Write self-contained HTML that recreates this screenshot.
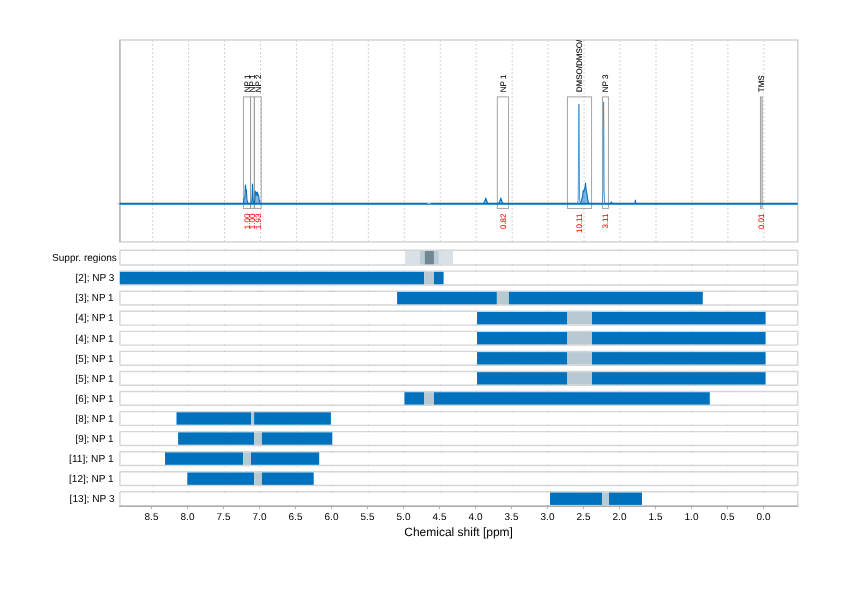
<!DOCTYPE html><html><head><meta charset="utf-8"><style>html,body{margin:0;padding:0;background:#fff;}svg{display:block;will-change:transform}text{font-family:"Liberation Sans",sans-serif;text-rendering:geometricPrecision}</style></head><body>
<svg width="842" height="595" viewBox="0 0 842 595">
<rect width="842" height="595" fill="#fff"/>
<defs><clipPath id="pc"><rect x="119.90" y="40.00" width="677.90" height="201.90"/></clipPath></defs>
<line x1="152.63" y1="40.00" x2="152.63" y2="241.90" stroke="#d2d2d2" stroke-width="1" stroke-dasharray="2,2"/>
<line x1="188.58" y1="40.00" x2="188.58" y2="241.90" stroke="#d2d2d2" stroke-width="1" stroke-dasharray="2,2"/>
<line x1="224.53" y1="40.00" x2="224.53" y2="241.90" stroke="#d2d2d2" stroke-width="1" stroke-dasharray="2,2"/>
<line x1="260.49" y1="40.00" x2="260.49" y2="241.90" stroke="#d2d2d2" stroke-width="1" stroke-dasharray="2,2"/>
<line x1="296.44" y1="40.00" x2="296.44" y2="241.90" stroke="#d2d2d2" stroke-width="1" stroke-dasharray="2,2"/>
<line x1="332.39" y1="40.00" x2="332.39" y2="241.90" stroke="#d2d2d2" stroke-width="1" stroke-dasharray="2,2"/>
<line x1="368.35" y1="40.00" x2="368.35" y2="241.90" stroke="#d2d2d2" stroke-width="1" stroke-dasharray="2,2"/>
<line x1="404.30" y1="40.00" x2="404.30" y2="241.90" stroke="#d2d2d2" stroke-width="1" stroke-dasharray="2,2"/>
<line x1="440.25" y1="40.00" x2="440.25" y2="241.90" stroke="#d2d2d2" stroke-width="1" stroke-dasharray="2,2"/>
<line x1="476.21" y1="40.00" x2="476.21" y2="241.90" stroke="#d2d2d2" stroke-width="1" stroke-dasharray="2,2"/>
<line x1="512.16" y1="40.00" x2="512.16" y2="241.90" stroke="#d2d2d2" stroke-width="1" stroke-dasharray="2,2"/>
<line x1="548.11" y1="40.00" x2="548.11" y2="241.90" stroke="#d2d2d2" stroke-width="1" stroke-dasharray="2,2"/>
<line x1="584.07" y1="40.00" x2="584.07" y2="241.90" stroke="#d2d2d2" stroke-width="1" stroke-dasharray="2,2"/>
<line x1="620.02" y1="40.00" x2="620.02" y2="241.90" stroke="#d2d2d2" stroke-width="1" stroke-dasharray="2,2"/>
<line x1="655.97" y1="40.00" x2="655.97" y2="241.90" stroke="#d2d2d2" stroke-width="1" stroke-dasharray="2,2"/>
<line x1="691.92" y1="40.00" x2="691.92" y2="241.90" stroke="#d2d2d2" stroke-width="1" stroke-dasharray="2,2"/>
<line x1="727.88" y1="40.00" x2="727.88" y2="241.90" stroke="#d2d2d2" stroke-width="1" stroke-dasharray="2,2"/>
<line x1="763.83" y1="40.00" x2="763.83" y2="241.90" stroke="#d2d2d2" stroke-width="1" stroke-dasharray="2,2"/>
<rect x="119.90" y="40.00" width="677.90" height="201.90" fill="none" stroke="#d0d0d0" stroke-width="1.4"/>
<line x1="119.90" y1="40.00" x2="119.90" y2="241.90" stroke="#b4b4b4" stroke-width="1.3"/>
<line x1="117.8" y1="203.8" x2="119.9" y2="203.8" stroke="#888" stroke-width="0.8"/>
<rect x="243.40" y="96.9" width="7.20" height="111.50" fill="none" stroke="#9a9a9a" stroke-width="0.9"/>
<rect x="250.60" y="96.9" width="3.70" height="111.50" fill="none" stroke="#9a9a9a" stroke-width="0.9"/>
<rect x="254.30" y="96.9" width="6.90" height="111.50" fill="none" stroke="#9a9a9a" stroke-width="0.9"/>
<rect x="497.30" y="96.9" width="11.30" height="111.50" fill="none" stroke="#9a9a9a" stroke-width="0.9"/>
<rect x="567.40" y="96.9" width="24.20" height="111.50" fill="none" stroke="#9a9a9a" stroke-width="0.9"/>
<rect x="602.40" y="96.9" width="6.00" height="111.50" fill="none" stroke="#9a9a9a" stroke-width="0.9"/>
<rect x="760.40" y="96.9" width="1.80" height="111.50" fill="#d9d9d9" stroke="#9a9a9a" stroke-width="0.9"/>
<path d="M119.90,203.8 H797.80" fill="none" stroke="#0072bd" stroke-width="1.9"/>
<rect x="427.1" y="202.80" width="3.8" height="0.8" fill="#fff" fill-opacity="0.85"/>
<path d="M243.60,203.60 L243.90,199.50 L244.40,197.60 L244.90,197.20 L245.20,190.00 L245.45,185.10 L245.80,188.00 L246.00,190.40 L246.35,190.00 L246.70,195.00 L247.00,200.20 L247.70,202.60 L248.50,203.60" fill="#0072bd" fill-opacity="0.5" stroke="#0072bd" stroke-width="1.1" stroke-linejoin="round"/>
<path d="M251.30,203.60 L251.90,200.50 L252.20,196.00 L252.50,184.00 L252.80,192.00 L253.10,200.00 L253.80,203.30" fill="#0072bd" fill-opacity="0.5" stroke="#0072bd" stroke-width="1.1" stroke-linejoin="round"/>
<path d="M254.40,203.40 L254.80,200.00 L255.30,191.00 L255.80,194.50 L256.40,192.30 L257.00,195.50 L257.50,192.00 L258.00,195.50 L258.50,195.00 L259.40,201.00 L260.20,203.60" fill="#0072bd" fill-opacity="0.5" stroke="#0072bd" stroke-width="1.1" stroke-linejoin="round"/>
<path d="M483.40,203.60 L484.60,201.50 L485.40,199.50 L485.75,198.00 L486.20,199.50 L487.00,201.50 L488.10,203.60" fill="#0072bd" fill-opacity="0.5" stroke="#0072bd" stroke-width="1.1" stroke-linejoin="round"/>
<path d="M498.50,203.60 L499.70,201.50 L500.40,199.50 L500.80,198.00 L501.20,199.50 L502.00,201.50 L503.10,203.60" fill="#0072bd" fill-opacity="0.5" stroke="#0072bd" stroke-width="1.1" stroke-linejoin="round"/>
<path d="M577.40,203.40 L578.20,200.00 L578.60,140.00 L578.90,104.10 L579.20,140.00 L579.60,200.00 L580.30,203.60" fill="none" stroke="#3d8fcf" stroke-width="0.9" stroke-linejoin="round"/>
<path d="M580.30,203.60 L581.50,200.50 L582.60,196.50 L583.20,190.50 L584.00,191.50 L584.80,188.00 L585.30,186.00 L585.50,183.10 L585.80,187.00 L586.30,191.00 L586.80,193.00 L587.40,197.60 L588.40,202.50 L589.20,203.60" fill="#0072bd" fill-opacity="0.5" stroke="#0072bd" stroke-width="1.1" stroke-linejoin="round"/>
<path d="M602.50,203.60 L603.10,190.00 L603.45,120.00 L603.60,101.80 L603.80,120.00 L604.10,190.00 L604.70,203.60" fill="none" stroke="#3d8fcf" stroke-width="0.9" stroke-linejoin="round"/>
<path d="M610.60,203.60 L611.40,201.90 L612.20,203.60" fill="#0072bd" fill-opacity="0.5" stroke="#0072bd" stroke-width="1.1" stroke-linejoin="round"/>
<path d="M635.00,203.60 L635.40,200.00 L635.80,203.60" fill="#0072bd" fill-opacity="0.5" stroke="#0072bd" stroke-width="1.1" stroke-linejoin="round"/>
<g clip-path="url(#pc)"><text transform="translate(249.90,92.2) rotate(-90)" font-size="8" fill="#000" stroke="#000" stroke-width="0.08">NP 1</text></g>
<text transform="translate(249.90,213.6) rotate(-90)" font-size="8" fill="#f00" stroke="#f00" stroke-width="0.05" text-anchor="end">1.00</text>
<g clip-path="url(#pc)"><text transform="translate(255.05,92.2) rotate(-90)" font-size="8" fill="#000" stroke="#000" stroke-width="0.08">NP 1</text></g>
<text transform="translate(255.05,213.6) rotate(-90)" font-size="8" fill="#f00" stroke="#f00" stroke-width="0.05" text-anchor="end">1.00</text>
<g clip-path="url(#pc)"><text transform="translate(260.75,92.2) rotate(-90)" font-size="8" fill="#000" stroke="#000" stroke-width="0.08">NP 2</text></g>
<text transform="translate(260.75,213.6) rotate(-90)" font-size="8" fill="#f00" stroke="#f00" stroke-width="0.05" text-anchor="end">1.93</text>
<g clip-path="url(#pc)"><text transform="translate(505.65,92.2) rotate(-90)" font-size="8" fill="#000" stroke="#000" stroke-width="0.08">NP 1</text></g>
<text transform="translate(505.65,213.6) rotate(-90)" font-size="8" fill="#f00" stroke="#f00" stroke-width="0.05" text-anchor="end">0.82</text>
<g clip-path="url(#pc)"><text transform="translate(582.20,92.2) rotate(-90)" font-size="8" fill="#000" stroke="#000" stroke-width="0.08">DMSO/DMSO/DMSO</text></g>
<text transform="translate(582.20,213.6) rotate(-90)" font-size="8" fill="#f00" stroke="#f00" stroke-width="0.05" text-anchor="end">10.11</text>
<g clip-path="url(#pc)"><text transform="translate(608.10,92.2) rotate(-90)" font-size="8" fill="#000" stroke="#000" stroke-width="0.08">NP 3</text></g>
<text transform="translate(608.10,213.6) rotate(-90)" font-size="8" fill="#f00" stroke="#f00" stroke-width="0.05" text-anchor="end">3.11</text>
<g clip-path="url(#pc)"><text transform="translate(764.00,92.2) rotate(-90)" font-size="8" fill="#000" stroke="#000" stroke-width="0.08">TMS</text></g>
<text transform="translate(764.00,213.6) rotate(-90)" font-size="8" fill="#f00" stroke="#f00" stroke-width="0.05" text-anchor="end">0.01</text>
<rect x="119.90" y="250.30" width="677.90" height="14.70" rx="0.6" fill="#fff" stroke="#d6d6d6" stroke-width="1.4"/>
<rect x="405.1" y="251.00" width="47.90" height="13.30" fill="#d9e1e7"/>
<rect x="420.1" y="251.00" width="18.50" height="13.30" fill="#b9cbd3"/>
<rect x="424.9" y="251.00" width="9.00" height="13.30" fill="#718794"/>
<line x1="152.63" y1="249.60" x2="152.63" y2="251.00" stroke="#c4c4c4" stroke-width="0.8"/>
<line x1="152.63" y1="264.30" x2="152.63" y2="265.70" stroke="#c4c4c4" stroke-width="0.8"/>
<line x1="188.58" y1="249.60" x2="188.58" y2="251.00" stroke="#c4c4c4" stroke-width="0.8"/>
<line x1="188.58" y1="264.30" x2="188.58" y2="265.70" stroke="#c4c4c4" stroke-width="0.8"/>
<line x1="224.53" y1="249.60" x2="224.53" y2="251.00" stroke="#c4c4c4" stroke-width="0.8"/>
<line x1="224.53" y1="264.30" x2="224.53" y2="265.70" stroke="#c4c4c4" stroke-width="0.8"/>
<line x1="260.49" y1="249.60" x2="260.49" y2="251.00" stroke="#c4c4c4" stroke-width="0.8"/>
<line x1="260.49" y1="264.30" x2="260.49" y2="265.70" stroke="#c4c4c4" stroke-width="0.8"/>
<line x1="296.44" y1="249.60" x2="296.44" y2="251.00" stroke="#c4c4c4" stroke-width="0.8"/>
<line x1="296.44" y1="264.30" x2="296.44" y2="265.70" stroke="#c4c4c4" stroke-width="0.8"/>
<line x1="332.39" y1="249.60" x2="332.39" y2="251.00" stroke="#c4c4c4" stroke-width="0.8"/>
<line x1="332.39" y1="264.30" x2="332.39" y2="265.70" stroke="#c4c4c4" stroke-width="0.8"/>
<line x1="368.35" y1="249.60" x2="368.35" y2="251.00" stroke="#c4c4c4" stroke-width="0.8"/>
<line x1="368.35" y1="264.30" x2="368.35" y2="265.70" stroke="#c4c4c4" stroke-width="0.8"/>
<line x1="404.30" y1="249.60" x2="404.30" y2="251.00" stroke="#c4c4c4" stroke-width="0.8"/>
<line x1="404.30" y1="264.30" x2="404.30" y2="265.70" stroke="#c4c4c4" stroke-width="0.8"/>
<line x1="440.25" y1="249.60" x2="440.25" y2="251.00" stroke="#c4c4c4" stroke-width="0.8"/>
<line x1="440.25" y1="264.30" x2="440.25" y2="265.70" stroke="#c4c4c4" stroke-width="0.8"/>
<line x1="476.21" y1="249.60" x2="476.21" y2="251.00" stroke="#c4c4c4" stroke-width="0.8"/>
<line x1="476.21" y1="264.30" x2="476.21" y2="265.70" stroke="#c4c4c4" stroke-width="0.8"/>
<line x1="512.16" y1="249.60" x2="512.16" y2="251.00" stroke="#c4c4c4" stroke-width="0.8"/>
<line x1="512.16" y1="264.30" x2="512.16" y2="265.70" stroke="#c4c4c4" stroke-width="0.8"/>
<line x1="548.11" y1="249.60" x2="548.11" y2="251.00" stroke="#c4c4c4" stroke-width="0.8"/>
<line x1="548.11" y1="264.30" x2="548.11" y2="265.70" stroke="#c4c4c4" stroke-width="0.8"/>
<line x1="584.07" y1="249.60" x2="584.07" y2="251.00" stroke="#c4c4c4" stroke-width="0.8"/>
<line x1="584.07" y1="264.30" x2="584.07" y2="265.70" stroke="#c4c4c4" stroke-width="0.8"/>
<line x1="620.02" y1="249.60" x2="620.02" y2="251.00" stroke="#c4c4c4" stroke-width="0.8"/>
<line x1="620.02" y1="264.30" x2="620.02" y2="265.70" stroke="#c4c4c4" stroke-width="0.8"/>
<line x1="655.97" y1="249.60" x2="655.97" y2="251.00" stroke="#c4c4c4" stroke-width="0.8"/>
<line x1="655.97" y1="264.30" x2="655.97" y2="265.70" stroke="#c4c4c4" stroke-width="0.8"/>
<line x1="691.92" y1="249.60" x2="691.92" y2="251.00" stroke="#c4c4c4" stroke-width="0.8"/>
<line x1="691.92" y1="264.30" x2="691.92" y2="265.70" stroke="#c4c4c4" stroke-width="0.8"/>
<line x1="727.88" y1="249.60" x2="727.88" y2="251.00" stroke="#c4c4c4" stroke-width="0.8"/>
<line x1="727.88" y1="264.30" x2="727.88" y2="265.70" stroke="#c4c4c4" stroke-width="0.8"/>
<line x1="763.83" y1="249.60" x2="763.83" y2="251.00" stroke="#c4c4c4" stroke-width="0.8"/>
<line x1="763.83" y1="264.30" x2="763.83" y2="265.70" stroke="#c4c4c4" stroke-width="0.8"/>
<text x="52.04" y="260.75" font-size="10.15" fill="#000" textLength="64.83" lengthAdjust="spacingAndGlyphs">Suppr. regions</text>
<rect x="119.90" y="271.16" width="677.90" height="13.80" rx="0.6" fill="#fff" stroke="#d6d6d6" stroke-width="1.4"/>
<rect x="119.90" y="271.86" width="304.30" height="12.40" fill="#0072bd"/>
<rect x="424.20" y="271.86" width="9.80" height="12.40" fill="#b9c9d1"/>
<rect x="434.00" y="271.86" width="9.60" height="12.40" fill="#0072bd"/>
<line x1="152.63" y1="270.46" x2="152.63" y2="271.86" stroke="#c4c4c4" stroke-width="0.8"/>
<line x1="152.63" y1="284.26" x2="152.63" y2="285.66" stroke="#c4c4c4" stroke-width="0.8"/>
<line x1="188.58" y1="270.46" x2="188.58" y2="271.86" stroke="#c4c4c4" stroke-width="0.8"/>
<line x1="188.58" y1="284.26" x2="188.58" y2="285.66" stroke="#c4c4c4" stroke-width="0.8"/>
<line x1="224.53" y1="270.46" x2="224.53" y2="271.86" stroke="#c4c4c4" stroke-width="0.8"/>
<line x1="224.53" y1="284.26" x2="224.53" y2="285.66" stroke="#c4c4c4" stroke-width="0.8"/>
<line x1="260.49" y1="270.46" x2="260.49" y2="271.86" stroke="#c4c4c4" stroke-width="0.8"/>
<line x1="260.49" y1="284.26" x2="260.49" y2="285.66" stroke="#c4c4c4" stroke-width="0.8"/>
<line x1="296.44" y1="270.46" x2="296.44" y2="271.86" stroke="#c4c4c4" stroke-width="0.8"/>
<line x1="296.44" y1="284.26" x2="296.44" y2="285.66" stroke="#c4c4c4" stroke-width="0.8"/>
<line x1="332.39" y1="270.46" x2="332.39" y2="271.86" stroke="#c4c4c4" stroke-width="0.8"/>
<line x1="332.39" y1="284.26" x2="332.39" y2="285.66" stroke="#c4c4c4" stroke-width="0.8"/>
<line x1="368.35" y1="270.46" x2="368.35" y2="271.86" stroke="#c4c4c4" stroke-width="0.8"/>
<line x1="368.35" y1="284.26" x2="368.35" y2="285.66" stroke="#c4c4c4" stroke-width="0.8"/>
<line x1="404.30" y1="270.46" x2="404.30" y2="271.86" stroke="#c4c4c4" stroke-width="0.8"/>
<line x1="404.30" y1="284.26" x2="404.30" y2="285.66" stroke="#c4c4c4" stroke-width="0.8"/>
<line x1="440.25" y1="270.46" x2="440.25" y2="271.86" stroke="#c4c4c4" stroke-width="0.8"/>
<line x1="440.25" y1="284.26" x2="440.25" y2="285.66" stroke="#c4c4c4" stroke-width="0.8"/>
<line x1="476.21" y1="270.46" x2="476.21" y2="271.86" stroke="#c4c4c4" stroke-width="0.8"/>
<line x1="476.21" y1="284.26" x2="476.21" y2="285.66" stroke="#c4c4c4" stroke-width="0.8"/>
<line x1="512.16" y1="270.46" x2="512.16" y2="271.86" stroke="#c4c4c4" stroke-width="0.8"/>
<line x1="512.16" y1="284.26" x2="512.16" y2="285.66" stroke="#c4c4c4" stroke-width="0.8"/>
<line x1="548.11" y1="270.46" x2="548.11" y2="271.86" stroke="#c4c4c4" stroke-width="0.8"/>
<line x1="548.11" y1="284.26" x2="548.11" y2="285.66" stroke="#c4c4c4" stroke-width="0.8"/>
<line x1="584.07" y1="270.46" x2="584.07" y2="271.86" stroke="#c4c4c4" stroke-width="0.8"/>
<line x1="584.07" y1="284.26" x2="584.07" y2="285.66" stroke="#c4c4c4" stroke-width="0.8"/>
<line x1="620.02" y1="270.46" x2="620.02" y2="271.86" stroke="#c4c4c4" stroke-width="0.8"/>
<line x1="620.02" y1="284.26" x2="620.02" y2="285.66" stroke="#c4c4c4" stroke-width="0.8"/>
<line x1="655.97" y1="270.46" x2="655.97" y2="271.86" stroke="#c4c4c4" stroke-width="0.8"/>
<line x1="655.97" y1="284.26" x2="655.97" y2="285.66" stroke="#c4c4c4" stroke-width="0.8"/>
<line x1="691.92" y1="270.46" x2="691.92" y2="271.86" stroke="#c4c4c4" stroke-width="0.8"/>
<line x1="691.92" y1="284.26" x2="691.92" y2="285.66" stroke="#c4c4c4" stroke-width="0.8"/>
<line x1="727.88" y1="270.46" x2="727.88" y2="271.86" stroke="#c4c4c4" stroke-width="0.8"/>
<line x1="727.88" y1="284.26" x2="727.88" y2="285.66" stroke="#c4c4c4" stroke-width="0.8"/>
<line x1="763.83" y1="270.46" x2="763.83" y2="271.86" stroke="#c4c4c4" stroke-width="0.8"/>
<line x1="763.83" y1="284.26" x2="763.83" y2="285.66" stroke="#c4c4c4" stroke-width="0.8"/>
<text x="75.48" y="281.36" font-size="10.15" fill="#000" textLength="38.97" lengthAdjust="spacingAndGlyphs">[2]; NP 3</text>
<rect x="119.90" y="291.22" width="677.90" height="13.80" rx="0.6" fill="#fff" stroke="#d6d6d6" stroke-width="1.4"/>
<rect x="397.10" y="291.92" width="99.80" height="12.40" fill="#0072bd"/>
<rect x="496.90" y="291.92" width="12.00" height="12.40" fill="#b9c9d1"/>
<rect x="508.90" y="291.92" width="193.90" height="12.40" fill="#0072bd"/>
<line x1="152.63" y1="290.52" x2="152.63" y2="291.92" stroke="#c4c4c4" stroke-width="0.8"/>
<line x1="152.63" y1="304.32" x2="152.63" y2="305.72" stroke="#c4c4c4" stroke-width="0.8"/>
<line x1="188.58" y1="290.52" x2="188.58" y2="291.92" stroke="#c4c4c4" stroke-width="0.8"/>
<line x1="188.58" y1="304.32" x2="188.58" y2="305.72" stroke="#c4c4c4" stroke-width="0.8"/>
<line x1="224.53" y1="290.52" x2="224.53" y2="291.92" stroke="#c4c4c4" stroke-width="0.8"/>
<line x1="224.53" y1="304.32" x2="224.53" y2="305.72" stroke="#c4c4c4" stroke-width="0.8"/>
<line x1="260.49" y1="290.52" x2="260.49" y2="291.92" stroke="#c4c4c4" stroke-width="0.8"/>
<line x1="260.49" y1="304.32" x2="260.49" y2="305.72" stroke="#c4c4c4" stroke-width="0.8"/>
<line x1="296.44" y1="290.52" x2="296.44" y2="291.92" stroke="#c4c4c4" stroke-width="0.8"/>
<line x1="296.44" y1="304.32" x2="296.44" y2="305.72" stroke="#c4c4c4" stroke-width="0.8"/>
<line x1="332.39" y1="290.52" x2="332.39" y2="291.92" stroke="#c4c4c4" stroke-width="0.8"/>
<line x1="332.39" y1="304.32" x2="332.39" y2="305.72" stroke="#c4c4c4" stroke-width="0.8"/>
<line x1="368.35" y1="290.52" x2="368.35" y2="291.92" stroke="#c4c4c4" stroke-width="0.8"/>
<line x1="368.35" y1="304.32" x2="368.35" y2="305.72" stroke="#c4c4c4" stroke-width="0.8"/>
<line x1="404.30" y1="290.52" x2="404.30" y2="291.92" stroke="#c4c4c4" stroke-width="0.8"/>
<line x1="404.30" y1="304.32" x2="404.30" y2="305.72" stroke="#c4c4c4" stroke-width="0.8"/>
<line x1="440.25" y1="290.52" x2="440.25" y2="291.92" stroke="#c4c4c4" stroke-width="0.8"/>
<line x1="440.25" y1="304.32" x2="440.25" y2="305.72" stroke="#c4c4c4" stroke-width="0.8"/>
<line x1="476.21" y1="290.52" x2="476.21" y2="291.92" stroke="#c4c4c4" stroke-width="0.8"/>
<line x1="476.21" y1="304.32" x2="476.21" y2="305.72" stroke="#c4c4c4" stroke-width="0.8"/>
<line x1="512.16" y1="290.52" x2="512.16" y2="291.92" stroke="#c4c4c4" stroke-width="0.8"/>
<line x1="512.16" y1="304.32" x2="512.16" y2="305.72" stroke="#c4c4c4" stroke-width="0.8"/>
<line x1="548.11" y1="290.52" x2="548.11" y2="291.92" stroke="#c4c4c4" stroke-width="0.8"/>
<line x1="548.11" y1="304.32" x2="548.11" y2="305.72" stroke="#c4c4c4" stroke-width="0.8"/>
<line x1="584.07" y1="290.52" x2="584.07" y2="291.92" stroke="#c4c4c4" stroke-width="0.8"/>
<line x1="584.07" y1="304.32" x2="584.07" y2="305.72" stroke="#c4c4c4" stroke-width="0.8"/>
<line x1="620.02" y1="290.52" x2="620.02" y2="291.92" stroke="#c4c4c4" stroke-width="0.8"/>
<line x1="620.02" y1="304.32" x2="620.02" y2="305.72" stroke="#c4c4c4" stroke-width="0.8"/>
<line x1="655.97" y1="290.52" x2="655.97" y2="291.92" stroke="#c4c4c4" stroke-width="0.8"/>
<line x1="655.97" y1="304.32" x2="655.97" y2="305.72" stroke="#c4c4c4" stroke-width="0.8"/>
<line x1="691.92" y1="290.52" x2="691.92" y2="291.92" stroke="#c4c4c4" stroke-width="0.8"/>
<line x1="691.92" y1="304.32" x2="691.92" y2="305.72" stroke="#c4c4c4" stroke-width="0.8"/>
<line x1="727.88" y1="290.52" x2="727.88" y2="291.92" stroke="#c4c4c4" stroke-width="0.8"/>
<line x1="727.88" y1="304.32" x2="727.88" y2="305.72" stroke="#c4c4c4" stroke-width="0.8"/>
<line x1="763.83" y1="290.52" x2="763.83" y2="291.92" stroke="#c4c4c4" stroke-width="0.8"/>
<line x1="763.83" y1="304.32" x2="763.83" y2="305.72" stroke="#c4c4c4" stroke-width="0.8"/>
<text x="75.48" y="301.42" font-size="10.15" fill="#000" textLength="38.02" lengthAdjust="spacingAndGlyphs">[3]; NP 1</text>
<rect x="119.90" y="311.28" width="677.90" height="13.80" rx="0.6" fill="#fff" stroke="#d6d6d6" stroke-width="1.4"/>
<rect x="477.00" y="311.98" width="90.40" height="12.40" fill="#0072bd"/>
<rect x="567.40" y="311.98" width="24.60" height="12.40" fill="#b9c9d1"/>
<rect x="592.00" y="311.98" width="173.60" height="12.40" fill="#0072bd"/>
<line x1="152.63" y1="310.58" x2="152.63" y2="311.98" stroke="#c4c4c4" stroke-width="0.8"/>
<line x1="152.63" y1="324.38" x2="152.63" y2="325.78" stroke="#c4c4c4" stroke-width="0.8"/>
<line x1="188.58" y1="310.58" x2="188.58" y2="311.98" stroke="#c4c4c4" stroke-width="0.8"/>
<line x1="188.58" y1="324.38" x2="188.58" y2="325.78" stroke="#c4c4c4" stroke-width="0.8"/>
<line x1="224.53" y1="310.58" x2="224.53" y2="311.98" stroke="#c4c4c4" stroke-width="0.8"/>
<line x1="224.53" y1="324.38" x2="224.53" y2="325.78" stroke="#c4c4c4" stroke-width="0.8"/>
<line x1="260.49" y1="310.58" x2="260.49" y2="311.98" stroke="#c4c4c4" stroke-width="0.8"/>
<line x1="260.49" y1="324.38" x2="260.49" y2="325.78" stroke="#c4c4c4" stroke-width="0.8"/>
<line x1="296.44" y1="310.58" x2="296.44" y2="311.98" stroke="#c4c4c4" stroke-width="0.8"/>
<line x1="296.44" y1="324.38" x2="296.44" y2="325.78" stroke="#c4c4c4" stroke-width="0.8"/>
<line x1="332.39" y1="310.58" x2="332.39" y2="311.98" stroke="#c4c4c4" stroke-width="0.8"/>
<line x1="332.39" y1="324.38" x2="332.39" y2="325.78" stroke="#c4c4c4" stroke-width="0.8"/>
<line x1="368.35" y1="310.58" x2="368.35" y2="311.98" stroke="#c4c4c4" stroke-width="0.8"/>
<line x1="368.35" y1="324.38" x2="368.35" y2="325.78" stroke="#c4c4c4" stroke-width="0.8"/>
<line x1="404.30" y1="310.58" x2="404.30" y2="311.98" stroke="#c4c4c4" stroke-width="0.8"/>
<line x1="404.30" y1="324.38" x2="404.30" y2="325.78" stroke="#c4c4c4" stroke-width="0.8"/>
<line x1="440.25" y1="310.58" x2="440.25" y2="311.98" stroke="#c4c4c4" stroke-width="0.8"/>
<line x1="440.25" y1="324.38" x2="440.25" y2="325.78" stroke="#c4c4c4" stroke-width="0.8"/>
<line x1="476.21" y1="310.58" x2="476.21" y2="311.98" stroke="#c4c4c4" stroke-width="0.8"/>
<line x1="476.21" y1="324.38" x2="476.21" y2="325.78" stroke="#c4c4c4" stroke-width="0.8"/>
<line x1="512.16" y1="310.58" x2="512.16" y2="311.98" stroke="#c4c4c4" stroke-width="0.8"/>
<line x1="512.16" y1="324.38" x2="512.16" y2="325.78" stroke="#c4c4c4" stroke-width="0.8"/>
<line x1="548.11" y1="310.58" x2="548.11" y2="311.98" stroke="#c4c4c4" stroke-width="0.8"/>
<line x1="548.11" y1="324.38" x2="548.11" y2="325.78" stroke="#c4c4c4" stroke-width="0.8"/>
<line x1="584.07" y1="310.58" x2="584.07" y2="311.98" stroke="#c4c4c4" stroke-width="0.8"/>
<line x1="584.07" y1="324.38" x2="584.07" y2="325.78" stroke="#c4c4c4" stroke-width="0.8"/>
<line x1="620.02" y1="310.58" x2="620.02" y2="311.98" stroke="#c4c4c4" stroke-width="0.8"/>
<line x1="620.02" y1="324.38" x2="620.02" y2="325.78" stroke="#c4c4c4" stroke-width="0.8"/>
<line x1="655.97" y1="310.58" x2="655.97" y2="311.98" stroke="#c4c4c4" stroke-width="0.8"/>
<line x1="655.97" y1="324.38" x2="655.97" y2="325.78" stroke="#c4c4c4" stroke-width="0.8"/>
<line x1="691.92" y1="310.58" x2="691.92" y2="311.98" stroke="#c4c4c4" stroke-width="0.8"/>
<line x1="691.92" y1="324.38" x2="691.92" y2="325.78" stroke="#c4c4c4" stroke-width="0.8"/>
<line x1="727.88" y1="310.58" x2="727.88" y2="311.98" stroke="#c4c4c4" stroke-width="0.8"/>
<line x1="727.88" y1="324.38" x2="727.88" y2="325.78" stroke="#c4c4c4" stroke-width="0.8"/>
<line x1="763.83" y1="310.58" x2="763.83" y2="311.98" stroke="#c4c4c4" stroke-width="0.8"/>
<line x1="763.83" y1="324.38" x2="763.83" y2="325.78" stroke="#c4c4c4" stroke-width="0.8"/>
<text x="75.48" y="321.48" font-size="10.15" fill="#000" textLength="38.02" lengthAdjust="spacingAndGlyphs">[4]; NP 1</text>
<rect x="119.90" y="331.34" width="677.90" height="13.80" rx="0.6" fill="#fff" stroke="#d6d6d6" stroke-width="1.4"/>
<rect x="477.00" y="332.04" width="90.40" height="12.40" fill="#0072bd"/>
<rect x="567.40" y="332.04" width="24.60" height="12.40" fill="#b9c9d1"/>
<rect x="592.00" y="332.04" width="173.60" height="12.40" fill="#0072bd"/>
<line x1="152.63" y1="330.64" x2="152.63" y2="332.04" stroke="#c4c4c4" stroke-width="0.8"/>
<line x1="152.63" y1="344.44" x2="152.63" y2="345.84" stroke="#c4c4c4" stroke-width="0.8"/>
<line x1="188.58" y1="330.64" x2="188.58" y2="332.04" stroke="#c4c4c4" stroke-width="0.8"/>
<line x1="188.58" y1="344.44" x2="188.58" y2="345.84" stroke="#c4c4c4" stroke-width="0.8"/>
<line x1="224.53" y1="330.64" x2="224.53" y2="332.04" stroke="#c4c4c4" stroke-width="0.8"/>
<line x1="224.53" y1="344.44" x2="224.53" y2="345.84" stroke="#c4c4c4" stroke-width="0.8"/>
<line x1="260.49" y1="330.64" x2="260.49" y2="332.04" stroke="#c4c4c4" stroke-width="0.8"/>
<line x1="260.49" y1="344.44" x2="260.49" y2="345.84" stroke="#c4c4c4" stroke-width="0.8"/>
<line x1="296.44" y1="330.64" x2="296.44" y2="332.04" stroke="#c4c4c4" stroke-width="0.8"/>
<line x1="296.44" y1="344.44" x2="296.44" y2="345.84" stroke="#c4c4c4" stroke-width="0.8"/>
<line x1="332.39" y1="330.64" x2="332.39" y2="332.04" stroke="#c4c4c4" stroke-width="0.8"/>
<line x1="332.39" y1="344.44" x2="332.39" y2="345.84" stroke="#c4c4c4" stroke-width="0.8"/>
<line x1="368.35" y1="330.64" x2="368.35" y2="332.04" stroke="#c4c4c4" stroke-width="0.8"/>
<line x1="368.35" y1="344.44" x2="368.35" y2="345.84" stroke="#c4c4c4" stroke-width="0.8"/>
<line x1="404.30" y1="330.64" x2="404.30" y2="332.04" stroke="#c4c4c4" stroke-width="0.8"/>
<line x1="404.30" y1="344.44" x2="404.30" y2="345.84" stroke="#c4c4c4" stroke-width="0.8"/>
<line x1="440.25" y1="330.64" x2="440.25" y2="332.04" stroke="#c4c4c4" stroke-width="0.8"/>
<line x1="440.25" y1="344.44" x2="440.25" y2="345.84" stroke="#c4c4c4" stroke-width="0.8"/>
<line x1="476.21" y1="330.64" x2="476.21" y2="332.04" stroke="#c4c4c4" stroke-width="0.8"/>
<line x1="476.21" y1="344.44" x2="476.21" y2="345.84" stroke="#c4c4c4" stroke-width="0.8"/>
<line x1="512.16" y1="330.64" x2="512.16" y2="332.04" stroke="#c4c4c4" stroke-width="0.8"/>
<line x1="512.16" y1="344.44" x2="512.16" y2="345.84" stroke="#c4c4c4" stroke-width="0.8"/>
<line x1="548.11" y1="330.64" x2="548.11" y2="332.04" stroke="#c4c4c4" stroke-width="0.8"/>
<line x1="548.11" y1="344.44" x2="548.11" y2="345.84" stroke="#c4c4c4" stroke-width="0.8"/>
<line x1="584.07" y1="330.64" x2="584.07" y2="332.04" stroke="#c4c4c4" stroke-width="0.8"/>
<line x1="584.07" y1="344.44" x2="584.07" y2="345.84" stroke="#c4c4c4" stroke-width="0.8"/>
<line x1="620.02" y1="330.64" x2="620.02" y2="332.04" stroke="#c4c4c4" stroke-width="0.8"/>
<line x1="620.02" y1="344.44" x2="620.02" y2="345.84" stroke="#c4c4c4" stroke-width="0.8"/>
<line x1="655.97" y1="330.64" x2="655.97" y2="332.04" stroke="#c4c4c4" stroke-width="0.8"/>
<line x1="655.97" y1="344.44" x2="655.97" y2="345.84" stroke="#c4c4c4" stroke-width="0.8"/>
<line x1="691.92" y1="330.64" x2="691.92" y2="332.04" stroke="#c4c4c4" stroke-width="0.8"/>
<line x1="691.92" y1="344.44" x2="691.92" y2="345.84" stroke="#c4c4c4" stroke-width="0.8"/>
<line x1="727.88" y1="330.64" x2="727.88" y2="332.04" stroke="#c4c4c4" stroke-width="0.8"/>
<line x1="727.88" y1="344.44" x2="727.88" y2="345.84" stroke="#c4c4c4" stroke-width="0.8"/>
<line x1="763.83" y1="330.64" x2="763.83" y2="332.04" stroke="#c4c4c4" stroke-width="0.8"/>
<line x1="763.83" y1="344.44" x2="763.83" y2="345.84" stroke="#c4c4c4" stroke-width="0.8"/>
<text x="75.48" y="341.54" font-size="10.15" fill="#000" textLength="38.02" lengthAdjust="spacingAndGlyphs">[4]; NP 1</text>
<rect x="119.90" y="351.40" width="677.90" height="13.80" rx="0.6" fill="#fff" stroke="#d6d6d6" stroke-width="1.4"/>
<rect x="477.00" y="352.10" width="90.40" height="12.40" fill="#0072bd"/>
<rect x="567.40" y="352.10" width="24.60" height="12.40" fill="#b9c9d1"/>
<rect x="592.00" y="352.10" width="173.60" height="12.40" fill="#0072bd"/>
<line x1="152.63" y1="350.70" x2="152.63" y2="352.10" stroke="#c4c4c4" stroke-width="0.8"/>
<line x1="152.63" y1="364.50" x2="152.63" y2="365.90" stroke="#c4c4c4" stroke-width="0.8"/>
<line x1="188.58" y1="350.70" x2="188.58" y2="352.10" stroke="#c4c4c4" stroke-width="0.8"/>
<line x1="188.58" y1="364.50" x2="188.58" y2="365.90" stroke="#c4c4c4" stroke-width="0.8"/>
<line x1="224.53" y1="350.70" x2="224.53" y2="352.10" stroke="#c4c4c4" stroke-width="0.8"/>
<line x1="224.53" y1="364.50" x2="224.53" y2="365.90" stroke="#c4c4c4" stroke-width="0.8"/>
<line x1="260.49" y1="350.70" x2="260.49" y2="352.10" stroke="#c4c4c4" stroke-width="0.8"/>
<line x1="260.49" y1="364.50" x2="260.49" y2="365.90" stroke="#c4c4c4" stroke-width="0.8"/>
<line x1="296.44" y1="350.70" x2="296.44" y2="352.10" stroke="#c4c4c4" stroke-width="0.8"/>
<line x1="296.44" y1="364.50" x2="296.44" y2="365.90" stroke="#c4c4c4" stroke-width="0.8"/>
<line x1="332.39" y1="350.70" x2="332.39" y2="352.10" stroke="#c4c4c4" stroke-width="0.8"/>
<line x1="332.39" y1="364.50" x2="332.39" y2="365.90" stroke="#c4c4c4" stroke-width="0.8"/>
<line x1="368.35" y1="350.70" x2="368.35" y2="352.10" stroke="#c4c4c4" stroke-width="0.8"/>
<line x1="368.35" y1="364.50" x2="368.35" y2="365.90" stroke="#c4c4c4" stroke-width="0.8"/>
<line x1="404.30" y1="350.70" x2="404.30" y2="352.10" stroke="#c4c4c4" stroke-width="0.8"/>
<line x1="404.30" y1="364.50" x2="404.30" y2="365.90" stroke="#c4c4c4" stroke-width="0.8"/>
<line x1="440.25" y1="350.70" x2="440.25" y2="352.10" stroke="#c4c4c4" stroke-width="0.8"/>
<line x1="440.25" y1="364.50" x2="440.25" y2="365.90" stroke="#c4c4c4" stroke-width="0.8"/>
<line x1="476.21" y1="350.70" x2="476.21" y2="352.10" stroke="#c4c4c4" stroke-width="0.8"/>
<line x1="476.21" y1="364.50" x2="476.21" y2="365.90" stroke="#c4c4c4" stroke-width="0.8"/>
<line x1="512.16" y1="350.70" x2="512.16" y2="352.10" stroke="#c4c4c4" stroke-width="0.8"/>
<line x1="512.16" y1="364.50" x2="512.16" y2="365.90" stroke="#c4c4c4" stroke-width="0.8"/>
<line x1="548.11" y1="350.70" x2="548.11" y2="352.10" stroke="#c4c4c4" stroke-width="0.8"/>
<line x1="548.11" y1="364.50" x2="548.11" y2="365.90" stroke="#c4c4c4" stroke-width="0.8"/>
<line x1="584.07" y1="350.70" x2="584.07" y2="352.10" stroke="#c4c4c4" stroke-width="0.8"/>
<line x1="584.07" y1="364.50" x2="584.07" y2="365.90" stroke="#c4c4c4" stroke-width="0.8"/>
<line x1="620.02" y1="350.70" x2="620.02" y2="352.10" stroke="#c4c4c4" stroke-width="0.8"/>
<line x1="620.02" y1="364.50" x2="620.02" y2="365.90" stroke="#c4c4c4" stroke-width="0.8"/>
<line x1="655.97" y1="350.70" x2="655.97" y2="352.10" stroke="#c4c4c4" stroke-width="0.8"/>
<line x1="655.97" y1="364.50" x2="655.97" y2="365.90" stroke="#c4c4c4" stroke-width="0.8"/>
<line x1="691.92" y1="350.70" x2="691.92" y2="352.10" stroke="#c4c4c4" stroke-width="0.8"/>
<line x1="691.92" y1="364.50" x2="691.92" y2="365.90" stroke="#c4c4c4" stroke-width="0.8"/>
<line x1="727.88" y1="350.70" x2="727.88" y2="352.10" stroke="#c4c4c4" stroke-width="0.8"/>
<line x1="727.88" y1="364.50" x2="727.88" y2="365.90" stroke="#c4c4c4" stroke-width="0.8"/>
<line x1="763.83" y1="350.70" x2="763.83" y2="352.10" stroke="#c4c4c4" stroke-width="0.8"/>
<line x1="763.83" y1="364.50" x2="763.83" y2="365.90" stroke="#c4c4c4" stroke-width="0.8"/>
<text x="75.48" y="361.60" font-size="10.15" fill="#000" textLength="38.02" lengthAdjust="spacingAndGlyphs">[5]; NP 1</text>
<rect x="119.90" y="371.46" width="677.90" height="13.80" rx="0.6" fill="#fff" stroke="#d6d6d6" stroke-width="1.4"/>
<rect x="477.00" y="372.16" width="90.40" height="12.40" fill="#0072bd"/>
<rect x="567.40" y="372.16" width="24.60" height="12.40" fill="#b9c9d1"/>
<rect x="592.00" y="372.16" width="173.60" height="12.40" fill="#0072bd"/>
<line x1="152.63" y1="370.76" x2="152.63" y2="372.16" stroke="#c4c4c4" stroke-width="0.8"/>
<line x1="152.63" y1="384.56" x2="152.63" y2="385.96" stroke="#c4c4c4" stroke-width="0.8"/>
<line x1="188.58" y1="370.76" x2="188.58" y2="372.16" stroke="#c4c4c4" stroke-width="0.8"/>
<line x1="188.58" y1="384.56" x2="188.58" y2="385.96" stroke="#c4c4c4" stroke-width="0.8"/>
<line x1="224.53" y1="370.76" x2="224.53" y2="372.16" stroke="#c4c4c4" stroke-width="0.8"/>
<line x1="224.53" y1="384.56" x2="224.53" y2="385.96" stroke="#c4c4c4" stroke-width="0.8"/>
<line x1="260.49" y1="370.76" x2="260.49" y2="372.16" stroke="#c4c4c4" stroke-width="0.8"/>
<line x1="260.49" y1="384.56" x2="260.49" y2="385.96" stroke="#c4c4c4" stroke-width="0.8"/>
<line x1="296.44" y1="370.76" x2="296.44" y2="372.16" stroke="#c4c4c4" stroke-width="0.8"/>
<line x1="296.44" y1="384.56" x2="296.44" y2="385.96" stroke="#c4c4c4" stroke-width="0.8"/>
<line x1="332.39" y1="370.76" x2="332.39" y2="372.16" stroke="#c4c4c4" stroke-width="0.8"/>
<line x1="332.39" y1="384.56" x2="332.39" y2="385.96" stroke="#c4c4c4" stroke-width="0.8"/>
<line x1="368.35" y1="370.76" x2="368.35" y2="372.16" stroke="#c4c4c4" stroke-width="0.8"/>
<line x1="368.35" y1="384.56" x2="368.35" y2="385.96" stroke="#c4c4c4" stroke-width="0.8"/>
<line x1="404.30" y1="370.76" x2="404.30" y2="372.16" stroke="#c4c4c4" stroke-width="0.8"/>
<line x1="404.30" y1="384.56" x2="404.30" y2="385.96" stroke="#c4c4c4" stroke-width="0.8"/>
<line x1="440.25" y1="370.76" x2="440.25" y2="372.16" stroke="#c4c4c4" stroke-width="0.8"/>
<line x1="440.25" y1="384.56" x2="440.25" y2="385.96" stroke="#c4c4c4" stroke-width="0.8"/>
<line x1="476.21" y1="370.76" x2="476.21" y2="372.16" stroke="#c4c4c4" stroke-width="0.8"/>
<line x1="476.21" y1="384.56" x2="476.21" y2="385.96" stroke="#c4c4c4" stroke-width="0.8"/>
<line x1="512.16" y1="370.76" x2="512.16" y2="372.16" stroke="#c4c4c4" stroke-width="0.8"/>
<line x1="512.16" y1="384.56" x2="512.16" y2="385.96" stroke="#c4c4c4" stroke-width="0.8"/>
<line x1="548.11" y1="370.76" x2="548.11" y2="372.16" stroke="#c4c4c4" stroke-width="0.8"/>
<line x1="548.11" y1="384.56" x2="548.11" y2="385.96" stroke="#c4c4c4" stroke-width="0.8"/>
<line x1="584.07" y1="370.76" x2="584.07" y2="372.16" stroke="#c4c4c4" stroke-width="0.8"/>
<line x1="584.07" y1="384.56" x2="584.07" y2="385.96" stroke="#c4c4c4" stroke-width="0.8"/>
<line x1="620.02" y1="370.76" x2="620.02" y2="372.16" stroke="#c4c4c4" stroke-width="0.8"/>
<line x1="620.02" y1="384.56" x2="620.02" y2="385.96" stroke="#c4c4c4" stroke-width="0.8"/>
<line x1="655.97" y1="370.76" x2="655.97" y2="372.16" stroke="#c4c4c4" stroke-width="0.8"/>
<line x1="655.97" y1="384.56" x2="655.97" y2="385.96" stroke="#c4c4c4" stroke-width="0.8"/>
<line x1="691.92" y1="370.76" x2="691.92" y2="372.16" stroke="#c4c4c4" stroke-width="0.8"/>
<line x1="691.92" y1="384.56" x2="691.92" y2="385.96" stroke="#c4c4c4" stroke-width="0.8"/>
<line x1="727.88" y1="370.76" x2="727.88" y2="372.16" stroke="#c4c4c4" stroke-width="0.8"/>
<line x1="727.88" y1="384.56" x2="727.88" y2="385.96" stroke="#c4c4c4" stroke-width="0.8"/>
<line x1="763.83" y1="370.76" x2="763.83" y2="372.16" stroke="#c4c4c4" stroke-width="0.8"/>
<line x1="763.83" y1="384.56" x2="763.83" y2="385.96" stroke="#c4c4c4" stroke-width="0.8"/>
<text x="75.48" y="381.66" font-size="10.15" fill="#000" textLength="38.02" lengthAdjust="spacingAndGlyphs">[5]; NP 1</text>
<rect x="119.90" y="391.52" width="677.90" height="13.80" rx="0.6" fill="#fff" stroke="#d6d6d6" stroke-width="1.4"/>
<rect x="404.40" y="392.22" width="19.90" height="12.40" fill="#0072bd"/>
<rect x="424.30" y="392.22" width="9.70" height="12.40" fill="#b9c9d1"/>
<rect x="434.00" y="392.22" width="275.80" height="12.40" fill="#0072bd"/>
<line x1="152.63" y1="390.82" x2="152.63" y2="392.22" stroke="#c4c4c4" stroke-width="0.8"/>
<line x1="152.63" y1="404.62" x2="152.63" y2="406.02" stroke="#c4c4c4" stroke-width="0.8"/>
<line x1="188.58" y1="390.82" x2="188.58" y2="392.22" stroke="#c4c4c4" stroke-width="0.8"/>
<line x1="188.58" y1="404.62" x2="188.58" y2="406.02" stroke="#c4c4c4" stroke-width="0.8"/>
<line x1="224.53" y1="390.82" x2="224.53" y2="392.22" stroke="#c4c4c4" stroke-width="0.8"/>
<line x1="224.53" y1="404.62" x2="224.53" y2="406.02" stroke="#c4c4c4" stroke-width="0.8"/>
<line x1="260.49" y1="390.82" x2="260.49" y2="392.22" stroke="#c4c4c4" stroke-width="0.8"/>
<line x1="260.49" y1="404.62" x2="260.49" y2="406.02" stroke="#c4c4c4" stroke-width="0.8"/>
<line x1="296.44" y1="390.82" x2="296.44" y2="392.22" stroke="#c4c4c4" stroke-width="0.8"/>
<line x1="296.44" y1="404.62" x2="296.44" y2="406.02" stroke="#c4c4c4" stroke-width="0.8"/>
<line x1="332.39" y1="390.82" x2="332.39" y2="392.22" stroke="#c4c4c4" stroke-width="0.8"/>
<line x1="332.39" y1="404.62" x2="332.39" y2="406.02" stroke="#c4c4c4" stroke-width="0.8"/>
<line x1="368.35" y1="390.82" x2="368.35" y2="392.22" stroke="#c4c4c4" stroke-width="0.8"/>
<line x1="368.35" y1="404.62" x2="368.35" y2="406.02" stroke="#c4c4c4" stroke-width="0.8"/>
<line x1="404.30" y1="390.82" x2="404.30" y2="392.22" stroke="#c4c4c4" stroke-width="0.8"/>
<line x1="404.30" y1="404.62" x2="404.30" y2="406.02" stroke="#c4c4c4" stroke-width="0.8"/>
<line x1="440.25" y1="390.82" x2="440.25" y2="392.22" stroke="#c4c4c4" stroke-width="0.8"/>
<line x1="440.25" y1="404.62" x2="440.25" y2="406.02" stroke="#c4c4c4" stroke-width="0.8"/>
<line x1="476.21" y1="390.82" x2="476.21" y2="392.22" stroke="#c4c4c4" stroke-width="0.8"/>
<line x1="476.21" y1="404.62" x2="476.21" y2="406.02" stroke="#c4c4c4" stroke-width="0.8"/>
<line x1="512.16" y1="390.82" x2="512.16" y2="392.22" stroke="#c4c4c4" stroke-width="0.8"/>
<line x1="512.16" y1="404.62" x2="512.16" y2="406.02" stroke="#c4c4c4" stroke-width="0.8"/>
<line x1="548.11" y1="390.82" x2="548.11" y2="392.22" stroke="#c4c4c4" stroke-width="0.8"/>
<line x1="548.11" y1="404.62" x2="548.11" y2="406.02" stroke="#c4c4c4" stroke-width="0.8"/>
<line x1="584.07" y1="390.82" x2="584.07" y2="392.22" stroke="#c4c4c4" stroke-width="0.8"/>
<line x1="584.07" y1="404.62" x2="584.07" y2="406.02" stroke="#c4c4c4" stroke-width="0.8"/>
<line x1="620.02" y1="390.82" x2="620.02" y2="392.22" stroke="#c4c4c4" stroke-width="0.8"/>
<line x1="620.02" y1="404.62" x2="620.02" y2="406.02" stroke="#c4c4c4" stroke-width="0.8"/>
<line x1="655.97" y1="390.82" x2="655.97" y2="392.22" stroke="#c4c4c4" stroke-width="0.8"/>
<line x1="655.97" y1="404.62" x2="655.97" y2="406.02" stroke="#c4c4c4" stroke-width="0.8"/>
<line x1="691.92" y1="390.82" x2="691.92" y2="392.22" stroke="#c4c4c4" stroke-width="0.8"/>
<line x1="691.92" y1="404.62" x2="691.92" y2="406.02" stroke="#c4c4c4" stroke-width="0.8"/>
<line x1="727.88" y1="390.82" x2="727.88" y2="392.22" stroke="#c4c4c4" stroke-width="0.8"/>
<line x1="727.88" y1="404.62" x2="727.88" y2="406.02" stroke="#c4c4c4" stroke-width="0.8"/>
<line x1="763.83" y1="390.82" x2="763.83" y2="392.22" stroke="#c4c4c4" stroke-width="0.8"/>
<line x1="763.83" y1="404.62" x2="763.83" y2="406.02" stroke="#c4c4c4" stroke-width="0.8"/>
<text x="75.48" y="401.72" font-size="10.15" fill="#000" textLength="38.02" lengthAdjust="spacingAndGlyphs">[6]; NP 1</text>
<rect x="119.90" y="411.58" width="677.90" height="13.80" rx="0.6" fill="#fff" stroke="#d6d6d6" stroke-width="1.4"/>
<rect x="176.50" y="412.28" width="74.50" height="12.40" fill="#0072bd"/>
<rect x="251.00" y="412.28" width="3.10" height="12.40" fill="#b9c9d1"/>
<rect x="254.10" y="412.28" width="76.80" height="12.40" fill="#0072bd"/>
<line x1="152.63" y1="410.88" x2="152.63" y2="412.28" stroke="#c4c4c4" stroke-width="0.8"/>
<line x1="152.63" y1="424.68" x2="152.63" y2="426.08" stroke="#c4c4c4" stroke-width="0.8"/>
<line x1="188.58" y1="410.88" x2="188.58" y2="412.28" stroke="#c4c4c4" stroke-width="0.8"/>
<line x1="188.58" y1="424.68" x2="188.58" y2="426.08" stroke="#c4c4c4" stroke-width="0.8"/>
<line x1="224.53" y1="410.88" x2="224.53" y2="412.28" stroke="#c4c4c4" stroke-width="0.8"/>
<line x1="224.53" y1="424.68" x2="224.53" y2="426.08" stroke="#c4c4c4" stroke-width="0.8"/>
<line x1="260.49" y1="410.88" x2="260.49" y2="412.28" stroke="#c4c4c4" stroke-width="0.8"/>
<line x1="260.49" y1="424.68" x2="260.49" y2="426.08" stroke="#c4c4c4" stroke-width="0.8"/>
<line x1="296.44" y1="410.88" x2="296.44" y2="412.28" stroke="#c4c4c4" stroke-width="0.8"/>
<line x1="296.44" y1="424.68" x2="296.44" y2="426.08" stroke="#c4c4c4" stroke-width="0.8"/>
<line x1="332.39" y1="410.88" x2="332.39" y2="412.28" stroke="#c4c4c4" stroke-width="0.8"/>
<line x1="332.39" y1="424.68" x2="332.39" y2="426.08" stroke="#c4c4c4" stroke-width="0.8"/>
<line x1="368.35" y1="410.88" x2="368.35" y2="412.28" stroke="#c4c4c4" stroke-width="0.8"/>
<line x1="368.35" y1="424.68" x2="368.35" y2="426.08" stroke="#c4c4c4" stroke-width="0.8"/>
<line x1="404.30" y1="410.88" x2="404.30" y2="412.28" stroke="#c4c4c4" stroke-width="0.8"/>
<line x1="404.30" y1="424.68" x2="404.30" y2="426.08" stroke="#c4c4c4" stroke-width="0.8"/>
<line x1="440.25" y1="410.88" x2="440.25" y2="412.28" stroke="#c4c4c4" stroke-width="0.8"/>
<line x1="440.25" y1="424.68" x2="440.25" y2="426.08" stroke="#c4c4c4" stroke-width="0.8"/>
<line x1="476.21" y1="410.88" x2="476.21" y2="412.28" stroke="#c4c4c4" stroke-width="0.8"/>
<line x1="476.21" y1="424.68" x2="476.21" y2="426.08" stroke="#c4c4c4" stroke-width="0.8"/>
<line x1="512.16" y1="410.88" x2="512.16" y2="412.28" stroke="#c4c4c4" stroke-width="0.8"/>
<line x1="512.16" y1="424.68" x2="512.16" y2="426.08" stroke="#c4c4c4" stroke-width="0.8"/>
<line x1="548.11" y1="410.88" x2="548.11" y2="412.28" stroke="#c4c4c4" stroke-width="0.8"/>
<line x1="548.11" y1="424.68" x2="548.11" y2="426.08" stroke="#c4c4c4" stroke-width="0.8"/>
<line x1="584.07" y1="410.88" x2="584.07" y2="412.28" stroke="#c4c4c4" stroke-width="0.8"/>
<line x1="584.07" y1="424.68" x2="584.07" y2="426.08" stroke="#c4c4c4" stroke-width="0.8"/>
<line x1="620.02" y1="410.88" x2="620.02" y2="412.28" stroke="#c4c4c4" stroke-width="0.8"/>
<line x1="620.02" y1="424.68" x2="620.02" y2="426.08" stroke="#c4c4c4" stroke-width="0.8"/>
<line x1="655.97" y1="410.88" x2="655.97" y2="412.28" stroke="#c4c4c4" stroke-width="0.8"/>
<line x1="655.97" y1="424.68" x2="655.97" y2="426.08" stroke="#c4c4c4" stroke-width="0.8"/>
<line x1="691.92" y1="410.88" x2="691.92" y2="412.28" stroke="#c4c4c4" stroke-width="0.8"/>
<line x1="691.92" y1="424.68" x2="691.92" y2="426.08" stroke="#c4c4c4" stroke-width="0.8"/>
<line x1="727.88" y1="410.88" x2="727.88" y2="412.28" stroke="#c4c4c4" stroke-width="0.8"/>
<line x1="727.88" y1="424.68" x2="727.88" y2="426.08" stroke="#c4c4c4" stroke-width="0.8"/>
<line x1="763.83" y1="410.88" x2="763.83" y2="412.28" stroke="#c4c4c4" stroke-width="0.8"/>
<line x1="763.83" y1="424.68" x2="763.83" y2="426.08" stroke="#c4c4c4" stroke-width="0.8"/>
<text x="75.48" y="421.78" font-size="10.15" fill="#000" textLength="38.02" lengthAdjust="spacingAndGlyphs">[8]; NP 1</text>
<rect x="119.90" y="431.64" width="677.90" height="13.80" rx="0.6" fill="#fff" stroke="#d6d6d6" stroke-width="1.4"/>
<rect x="178.10" y="432.34" width="76.00" height="12.40" fill="#0072bd"/>
<rect x="254.10" y="432.34" width="7.80" height="12.40" fill="#b9c9d1"/>
<rect x="261.90" y="432.34" width="70.40" height="12.40" fill="#0072bd"/>
<line x1="152.63" y1="430.94" x2="152.63" y2="432.34" stroke="#c4c4c4" stroke-width="0.8"/>
<line x1="152.63" y1="444.74" x2="152.63" y2="446.14" stroke="#c4c4c4" stroke-width="0.8"/>
<line x1="188.58" y1="430.94" x2="188.58" y2="432.34" stroke="#c4c4c4" stroke-width="0.8"/>
<line x1="188.58" y1="444.74" x2="188.58" y2="446.14" stroke="#c4c4c4" stroke-width="0.8"/>
<line x1="224.53" y1="430.94" x2="224.53" y2="432.34" stroke="#c4c4c4" stroke-width="0.8"/>
<line x1="224.53" y1="444.74" x2="224.53" y2="446.14" stroke="#c4c4c4" stroke-width="0.8"/>
<line x1="260.49" y1="430.94" x2="260.49" y2="432.34" stroke="#c4c4c4" stroke-width="0.8"/>
<line x1="260.49" y1="444.74" x2="260.49" y2="446.14" stroke="#c4c4c4" stroke-width="0.8"/>
<line x1="296.44" y1="430.94" x2="296.44" y2="432.34" stroke="#c4c4c4" stroke-width="0.8"/>
<line x1="296.44" y1="444.74" x2="296.44" y2="446.14" stroke="#c4c4c4" stroke-width="0.8"/>
<line x1="332.39" y1="430.94" x2="332.39" y2="432.34" stroke="#c4c4c4" stroke-width="0.8"/>
<line x1="332.39" y1="444.74" x2="332.39" y2="446.14" stroke="#c4c4c4" stroke-width="0.8"/>
<line x1="368.35" y1="430.94" x2="368.35" y2="432.34" stroke="#c4c4c4" stroke-width="0.8"/>
<line x1="368.35" y1="444.74" x2="368.35" y2="446.14" stroke="#c4c4c4" stroke-width="0.8"/>
<line x1="404.30" y1="430.94" x2="404.30" y2="432.34" stroke="#c4c4c4" stroke-width="0.8"/>
<line x1="404.30" y1="444.74" x2="404.30" y2="446.14" stroke="#c4c4c4" stroke-width="0.8"/>
<line x1="440.25" y1="430.94" x2="440.25" y2="432.34" stroke="#c4c4c4" stroke-width="0.8"/>
<line x1="440.25" y1="444.74" x2="440.25" y2="446.14" stroke="#c4c4c4" stroke-width="0.8"/>
<line x1="476.21" y1="430.94" x2="476.21" y2="432.34" stroke="#c4c4c4" stroke-width="0.8"/>
<line x1="476.21" y1="444.74" x2="476.21" y2="446.14" stroke="#c4c4c4" stroke-width="0.8"/>
<line x1="512.16" y1="430.94" x2="512.16" y2="432.34" stroke="#c4c4c4" stroke-width="0.8"/>
<line x1="512.16" y1="444.74" x2="512.16" y2="446.14" stroke="#c4c4c4" stroke-width="0.8"/>
<line x1="548.11" y1="430.94" x2="548.11" y2="432.34" stroke="#c4c4c4" stroke-width="0.8"/>
<line x1="548.11" y1="444.74" x2="548.11" y2="446.14" stroke="#c4c4c4" stroke-width="0.8"/>
<line x1="584.07" y1="430.94" x2="584.07" y2="432.34" stroke="#c4c4c4" stroke-width="0.8"/>
<line x1="584.07" y1="444.74" x2="584.07" y2="446.14" stroke="#c4c4c4" stroke-width="0.8"/>
<line x1="620.02" y1="430.94" x2="620.02" y2="432.34" stroke="#c4c4c4" stroke-width="0.8"/>
<line x1="620.02" y1="444.74" x2="620.02" y2="446.14" stroke="#c4c4c4" stroke-width="0.8"/>
<line x1="655.97" y1="430.94" x2="655.97" y2="432.34" stroke="#c4c4c4" stroke-width="0.8"/>
<line x1="655.97" y1="444.74" x2="655.97" y2="446.14" stroke="#c4c4c4" stroke-width="0.8"/>
<line x1="691.92" y1="430.94" x2="691.92" y2="432.34" stroke="#c4c4c4" stroke-width="0.8"/>
<line x1="691.92" y1="444.74" x2="691.92" y2="446.14" stroke="#c4c4c4" stroke-width="0.8"/>
<line x1="727.88" y1="430.94" x2="727.88" y2="432.34" stroke="#c4c4c4" stroke-width="0.8"/>
<line x1="727.88" y1="444.74" x2="727.88" y2="446.14" stroke="#c4c4c4" stroke-width="0.8"/>
<line x1="763.83" y1="430.94" x2="763.83" y2="432.34" stroke="#c4c4c4" stroke-width="0.8"/>
<line x1="763.83" y1="444.74" x2="763.83" y2="446.14" stroke="#c4c4c4" stroke-width="0.8"/>
<text x="75.48" y="441.84" font-size="10.15" fill="#000" textLength="38.02" lengthAdjust="spacingAndGlyphs">[9]; NP 1</text>
<rect x="119.90" y="451.70" width="677.90" height="13.80" rx="0.6" fill="#fff" stroke="#d6d6d6" stroke-width="1.4"/>
<rect x="165.00" y="452.40" width="78.20" height="12.40" fill="#0072bd"/>
<rect x="243.20" y="452.40" width="7.80" height="12.40" fill="#b9c9d1"/>
<rect x="251.00" y="452.40" width="68.20" height="12.40" fill="#0072bd"/>
<line x1="152.63" y1="451.00" x2="152.63" y2="452.40" stroke="#c4c4c4" stroke-width="0.8"/>
<line x1="152.63" y1="464.80" x2="152.63" y2="466.20" stroke="#c4c4c4" stroke-width="0.8"/>
<line x1="188.58" y1="451.00" x2="188.58" y2="452.40" stroke="#c4c4c4" stroke-width="0.8"/>
<line x1="188.58" y1="464.80" x2="188.58" y2="466.20" stroke="#c4c4c4" stroke-width="0.8"/>
<line x1="224.53" y1="451.00" x2="224.53" y2="452.40" stroke="#c4c4c4" stroke-width="0.8"/>
<line x1="224.53" y1="464.80" x2="224.53" y2="466.20" stroke="#c4c4c4" stroke-width="0.8"/>
<line x1="260.49" y1="451.00" x2="260.49" y2="452.40" stroke="#c4c4c4" stroke-width="0.8"/>
<line x1="260.49" y1="464.80" x2="260.49" y2="466.20" stroke="#c4c4c4" stroke-width="0.8"/>
<line x1="296.44" y1="451.00" x2="296.44" y2="452.40" stroke="#c4c4c4" stroke-width="0.8"/>
<line x1="296.44" y1="464.80" x2="296.44" y2="466.20" stroke="#c4c4c4" stroke-width="0.8"/>
<line x1="332.39" y1="451.00" x2="332.39" y2="452.40" stroke="#c4c4c4" stroke-width="0.8"/>
<line x1="332.39" y1="464.80" x2="332.39" y2="466.20" stroke="#c4c4c4" stroke-width="0.8"/>
<line x1="368.35" y1="451.00" x2="368.35" y2="452.40" stroke="#c4c4c4" stroke-width="0.8"/>
<line x1="368.35" y1="464.80" x2="368.35" y2="466.20" stroke="#c4c4c4" stroke-width="0.8"/>
<line x1="404.30" y1="451.00" x2="404.30" y2="452.40" stroke="#c4c4c4" stroke-width="0.8"/>
<line x1="404.30" y1="464.80" x2="404.30" y2="466.20" stroke="#c4c4c4" stroke-width="0.8"/>
<line x1="440.25" y1="451.00" x2="440.25" y2="452.40" stroke="#c4c4c4" stroke-width="0.8"/>
<line x1="440.25" y1="464.80" x2="440.25" y2="466.20" stroke="#c4c4c4" stroke-width="0.8"/>
<line x1="476.21" y1="451.00" x2="476.21" y2="452.40" stroke="#c4c4c4" stroke-width="0.8"/>
<line x1="476.21" y1="464.80" x2="476.21" y2="466.20" stroke="#c4c4c4" stroke-width="0.8"/>
<line x1="512.16" y1="451.00" x2="512.16" y2="452.40" stroke="#c4c4c4" stroke-width="0.8"/>
<line x1="512.16" y1="464.80" x2="512.16" y2="466.20" stroke="#c4c4c4" stroke-width="0.8"/>
<line x1="548.11" y1="451.00" x2="548.11" y2="452.40" stroke="#c4c4c4" stroke-width="0.8"/>
<line x1="548.11" y1="464.80" x2="548.11" y2="466.20" stroke="#c4c4c4" stroke-width="0.8"/>
<line x1="584.07" y1="451.00" x2="584.07" y2="452.40" stroke="#c4c4c4" stroke-width="0.8"/>
<line x1="584.07" y1="464.80" x2="584.07" y2="466.20" stroke="#c4c4c4" stroke-width="0.8"/>
<line x1="620.02" y1="451.00" x2="620.02" y2="452.40" stroke="#c4c4c4" stroke-width="0.8"/>
<line x1="620.02" y1="464.80" x2="620.02" y2="466.20" stroke="#c4c4c4" stroke-width="0.8"/>
<line x1="655.97" y1="451.00" x2="655.97" y2="452.40" stroke="#c4c4c4" stroke-width="0.8"/>
<line x1="655.97" y1="464.80" x2="655.97" y2="466.20" stroke="#c4c4c4" stroke-width="0.8"/>
<line x1="691.92" y1="451.00" x2="691.92" y2="452.40" stroke="#c4c4c4" stroke-width="0.8"/>
<line x1="691.92" y1="464.80" x2="691.92" y2="466.20" stroke="#c4c4c4" stroke-width="0.8"/>
<line x1="727.88" y1="451.00" x2="727.88" y2="452.40" stroke="#c4c4c4" stroke-width="0.8"/>
<line x1="727.88" y1="464.80" x2="727.88" y2="466.20" stroke="#c4c4c4" stroke-width="0.8"/>
<line x1="763.83" y1="451.00" x2="763.83" y2="452.40" stroke="#c4c4c4" stroke-width="0.8"/>
<line x1="763.83" y1="464.80" x2="763.83" y2="466.20" stroke="#c4c4c4" stroke-width="0.8"/>
<text x="69.08" y="461.90" font-size="10.15" fill="#000" textLength="44.52" lengthAdjust="spacingAndGlyphs">[11]; NP 1</text>
<rect x="119.90" y="471.76" width="677.90" height="13.80" rx="0.6" fill="#fff" stroke="#d6d6d6" stroke-width="1.4"/>
<rect x="187.30" y="472.46" width="66.80" height="12.40" fill="#0072bd"/>
<rect x="254.10" y="472.46" width="7.80" height="12.40" fill="#b9c9d1"/>
<rect x="261.90" y="472.46" width="51.80" height="12.40" fill="#0072bd"/>
<line x1="152.63" y1="471.06" x2="152.63" y2="472.46" stroke="#c4c4c4" stroke-width="0.8"/>
<line x1="152.63" y1="484.86" x2="152.63" y2="486.26" stroke="#c4c4c4" stroke-width="0.8"/>
<line x1="188.58" y1="471.06" x2="188.58" y2="472.46" stroke="#c4c4c4" stroke-width="0.8"/>
<line x1="188.58" y1="484.86" x2="188.58" y2="486.26" stroke="#c4c4c4" stroke-width="0.8"/>
<line x1="224.53" y1="471.06" x2="224.53" y2="472.46" stroke="#c4c4c4" stroke-width="0.8"/>
<line x1="224.53" y1="484.86" x2="224.53" y2="486.26" stroke="#c4c4c4" stroke-width="0.8"/>
<line x1="260.49" y1="471.06" x2="260.49" y2="472.46" stroke="#c4c4c4" stroke-width="0.8"/>
<line x1="260.49" y1="484.86" x2="260.49" y2="486.26" stroke="#c4c4c4" stroke-width="0.8"/>
<line x1="296.44" y1="471.06" x2="296.44" y2="472.46" stroke="#c4c4c4" stroke-width="0.8"/>
<line x1="296.44" y1="484.86" x2="296.44" y2="486.26" stroke="#c4c4c4" stroke-width="0.8"/>
<line x1="332.39" y1="471.06" x2="332.39" y2="472.46" stroke="#c4c4c4" stroke-width="0.8"/>
<line x1="332.39" y1="484.86" x2="332.39" y2="486.26" stroke="#c4c4c4" stroke-width="0.8"/>
<line x1="368.35" y1="471.06" x2="368.35" y2="472.46" stroke="#c4c4c4" stroke-width="0.8"/>
<line x1="368.35" y1="484.86" x2="368.35" y2="486.26" stroke="#c4c4c4" stroke-width="0.8"/>
<line x1="404.30" y1="471.06" x2="404.30" y2="472.46" stroke="#c4c4c4" stroke-width="0.8"/>
<line x1="404.30" y1="484.86" x2="404.30" y2="486.26" stroke="#c4c4c4" stroke-width="0.8"/>
<line x1="440.25" y1="471.06" x2="440.25" y2="472.46" stroke="#c4c4c4" stroke-width="0.8"/>
<line x1="440.25" y1="484.86" x2="440.25" y2="486.26" stroke="#c4c4c4" stroke-width="0.8"/>
<line x1="476.21" y1="471.06" x2="476.21" y2="472.46" stroke="#c4c4c4" stroke-width="0.8"/>
<line x1="476.21" y1="484.86" x2="476.21" y2="486.26" stroke="#c4c4c4" stroke-width="0.8"/>
<line x1="512.16" y1="471.06" x2="512.16" y2="472.46" stroke="#c4c4c4" stroke-width="0.8"/>
<line x1="512.16" y1="484.86" x2="512.16" y2="486.26" stroke="#c4c4c4" stroke-width="0.8"/>
<line x1="548.11" y1="471.06" x2="548.11" y2="472.46" stroke="#c4c4c4" stroke-width="0.8"/>
<line x1="548.11" y1="484.86" x2="548.11" y2="486.26" stroke="#c4c4c4" stroke-width="0.8"/>
<line x1="584.07" y1="471.06" x2="584.07" y2="472.46" stroke="#c4c4c4" stroke-width="0.8"/>
<line x1="584.07" y1="484.86" x2="584.07" y2="486.26" stroke="#c4c4c4" stroke-width="0.8"/>
<line x1="620.02" y1="471.06" x2="620.02" y2="472.46" stroke="#c4c4c4" stroke-width="0.8"/>
<line x1="620.02" y1="484.86" x2="620.02" y2="486.26" stroke="#c4c4c4" stroke-width="0.8"/>
<line x1="655.97" y1="471.06" x2="655.97" y2="472.46" stroke="#c4c4c4" stroke-width="0.8"/>
<line x1="655.97" y1="484.86" x2="655.97" y2="486.26" stroke="#c4c4c4" stroke-width="0.8"/>
<line x1="691.92" y1="471.06" x2="691.92" y2="472.46" stroke="#c4c4c4" stroke-width="0.8"/>
<line x1="691.92" y1="484.86" x2="691.92" y2="486.26" stroke="#c4c4c4" stroke-width="0.8"/>
<line x1="727.88" y1="471.06" x2="727.88" y2="472.46" stroke="#c4c4c4" stroke-width="0.8"/>
<line x1="727.88" y1="484.86" x2="727.88" y2="486.26" stroke="#c4c4c4" stroke-width="0.8"/>
<line x1="763.83" y1="471.06" x2="763.83" y2="472.46" stroke="#c4c4c4" stroke-width="0.8"/>
<line x1="763.83" y1="484.86" x2="763.83" y2="486.26" stroke="#c4c4c4" stroke-width="0.8"/>
<text x="69.08" y="481.96" font-size="10.15" fill="#000" textLength="44.52" lengthAdjust="spacingAndGlyphs">[12]; NP 1</text>
<rect x="119.90" y="491.82" width="677.90" height="13.80" rx="0.6" fill="#fff" stroke="#d6d6d6" stroke-width="1.4"/>
<rect x="550.00" y="492.52" width="52.10" height="12.40" fill="#0072bd"/>
<rect x="602.10" y="492.52" width="6.90" height="12.40" fill="#b9c9d1"/>
<rect x="609.00" y="492.52" width="33.00" height="12.40" fill="#0072bd"/>
<line x1="152.63" y1="491.12" x2="152.63" y2="492.52" stroke="#c4c4c4" stroke-width="0.8"/>
<line x1="152.63" y1="504.92" x2="152.63" y2="506.32" stroke="#c4c4c4" stroke-width="0.8"/>
<line x1="188.58" y1="491.12" x2="188.58" y2="492.52" stroke="#c4c4c4" stroke-width="0.8"/>
<line x1="188.58" y1="504.92" x2="188.58" y2="506.32" stroke="#c4c4c4" stroke-width="0.8"/>
<line x1="224.53" y1="491.12" x2="224.53" y2="492.52" stroke="#c4c4c4" stroke-width="0.8"/>
<line x1="224.53" y1="504.92" x2="224.53" y2="506.32" stroke="#c4c4c4" stroke-width="0.8"/>
<line x1="260.49" y1="491.12" x2="260.49" y2="492.52" stroke="#c4c4c4" stroke-width="0.8"/>
<line x1="260.49" y1="504.92" x2="260.49" y2="506.32" stroke="#c4c4c4" stroke-width="0.8"/>
<line x1="296.44" y1="491.12" x2="296.44" y2="492.52" stroke="#c4c4c4" stroke-width="0.8"/>
<line x1="296.44" y1="504.92" x2="296.44" y2="506.32" stroke="#c4c4c4" stroke-width="0.8"/>
<line x1="332.39" y1="491.12" x2="332.39" y2="492.52" stroke="#c4c4c4" stroke-width="0.8"/>
<line x1="332.39" y1="504.92" x2="332.39" y2="506.32" stroke="#c4c4c4" stroke-width="0.8"/>
<line x1="368.35" y1="491.12" x2="368.35" y2="492.52" stroke="#c4c4c4" stroke-width="0.8"/>
<line x1="368.35" y1="504.92" x2="368.35" y2="506.32" stroke="#c4c4c4" stroke-width="0.8"/>
<line x1="404.30" y1="491.12" x2="404.30" y2="492.52" stroke="#c4c4c4" stroke-width="0.8"/>
<line x1="404.30" y1="504.92" x2="404.30" y2="506.32" stroke="#c4c4c4" stroke-width="0.8"/>
<line x1="440.25" y1="491.12" x2="440.25" y2="492.52" stroke="#c4c4c4" stroke-width="0.8"/>
<line x1="440.25" y1="504.92" x2="440.25" y2="506.32" stroke="#c4c4c4" stroke-width="0.8"/>
<line x1="476.21" y1="491.12" x2="476.21" y2="492.52" stroke="#c4c4c4" stroke-width="0.8"/>
<line x1="476.21" y1="504.92" x2="476.21" y2="506.32" stroke="#c4c4c4" stroke-width="0.8"/>
<line x1="512.16" y1="491.12" x2="512.16" y2="492.52" stroke="#c4c4c4" stroke-width="0.8"/>
<line x1="512.16" y1="504.92" x2="512.16" y2="506.32" stroke="#c4c4c4" stroke-width="0.8"/>
<line x1="548.11" y1="491.12" x2="548.11" y2="492.52" stroke="#c4c4c4" stroke-width="0.8"/>
<line x1="548.11" y1="504.92" x2="548.11" y2="506.32" stroke="#c4c4c4" stroke-width="0.8"/>
<line x1="584.07" y1="491.12" x2="584.07" y2="492.52" stroke="#c4c4c4" stroke-width="0.8"/>
<line x1="584.07" y1="504.92" x2="584.07" y2="506.32" stroke="#c4c4c4" stroke-width="0.8"/>
<line x1="620.02" y1="491.12" x2="620.02" y2="492.52" stroke="#c4c4c4" stroke-width="0.8"/>
<line x1="620.02" y1="504.92" x2="620.02" y2="506.32" stroke="#c4c4c4" stroke-width="0.8"/>
<line x1="655.97" y1="491.12" x2="655.97" y2="492.52" stroke="#c4c4c4" stroke-width="0.8"/>
<line x1="655.97" y1="504.92" x2="655.97" y2="506.32" stroke="#c4c4c4" stroke-width="0.8"/>
<line x1="691.92" y1="491.12" x2="691.92" y2="492.52" stroke="#c4c4c4" stroke-width="0.8"/>
<line x1="691.92" y1="504.92" x2="691.92" y2="506.32" stroke="#c4c4c4" stroke-width="0.8"/>
<line x1="727.88" y1="491.12" x2="727.88" y2="492.52" stroke="#c4c4c4" stroke-width="0.8"/>
<line x1="727.88" y1="504.92" x2="727.88" y2="506.32" stroke="#c4c4c4" stroke-width="0.8"/>
<line x1="763.83" y1="491.12" x2="763.83" y2="492.52" stroke="#c4c4c4" stroke-width="0.8"/>
<line x1="763.83" y1="504.92" x2="763.83" y2="506.32" stroke="#c4c4c4" stroke-width="0.8"/>
<text x="69.58" y="502.02" font-size="10.15" fill="#000" textLength="44.97" lengthAdjust="spacingAndGlyphs">[13]; NP 3</text>
<line x1="119" y1="506.3" x2="798.3" y2="506.3" stroke="#9c9c9c" stroke-width="1"/>
<line x1="151.50" y1="506.3" x2="151.50" y2="508.8" stroke="#9c9c9c" stroke-width="0.8"/>
<text x="151.50" y="520" font-size="10" fill="#000" text-anchor="middle">8.5</text>
<line x1="187.50" y1="506.3" x2="187.50" y2="508.8" stroke="#9c9c9c" stroke-width="0.8"/>
<text x="187.50" y="520" font-size="10" fill="#000" text-anchor="middle">8.0</text>
<line x1="223.50" y1="506.3" x2="223.50" y2="508.8" stroke="#9c9c9c" stroke-width="0.8"/>
<text x="223.50" y="520" font-size="10" fill="#000" text-anchor="middle">7.5</text>
<line x1="259.50" y1="506.3" x2="259.50" y2="508.8" stroke="#9c9c9c" stroke-width="0.8"/>
<text x="259.50" y="520" font-size="10" fill="#000" text-anchor="middle">7.0</text>
<line x1="295.50" y1="506.3" x2="295.50" y2="508.8" stroke="#9c9c9c" stroke-width="0.8"/>
<text x="295.50" y="520" font-size="10" fill="#000" text-anchor="middle">6.5</text>
<line x1="331.50" y1="506.3" x2="331.50" y2="508.8" stroke="#9c9c9c" stroke-width="0.8"/>
<text x="331.50" y="520" font-size="10" fill="#000" text-anchor="middle">6.0</text>
<line x1="367.50" y1="506.3" x2="367.50" y2="508.8" stroke="#9c9c9c" stroke-width="0.8"/>
<text x="367.50" y="520" font-size="10" fill="#000" text-anchor="middle">5.5</text>
<line x1="403.50" y1="506.3" x2="403.50" y2="508.8" stroke="#9c9c9c" stroke-width="0.8"/>
<text x="403.50" y="520" font-size="10" fill="#000" text-anchor="middle">5.0</text>
<line x1="439.50" y1="506.3" x2="439.50" y2="508.8" stroke="#9c9c9c" stroke-width="0.8"/>
<text x="439.50" y="520" font-size="10" fill="#000" text-anchor="middle">4.5</text>
<line x1="475.50" y1="506.3" x2="475.50" y2="508.8" stroke="#9c9c9c" stroke-width="0.8"/>
<text x="475.50" y="520" font-size="10" fill="#000" text-anchor="middle">4.0</text>
<line x1="511.50" y1="506.3" x2="511.50" y2="508.8" stroke="#9c9c9c" stroke-width="0.8"/>
<text x="511.50" y="520" font-size="10" fill="#000" text-anchor="middle">3.5</text>
<line x1="547.50" y1="506.3" x2="547.50" y2="508.8" stroke="#9c9c9c" stroke-width="0.8"/>
<text x="547.50" y="520" font-size="10" fill="#000" text-anchor="middle">3.0</text>
<line x1="583.50" y1="506.3" x2="583.50" y2="508.8" stroke="#9c9c9c" stroke-width="0.8"/>
<text x="583.50" y="520" font-size="10" fill="#000" text-anchor="middle">2.5</text>
<line x1="619.50" y1="506.3" x2="619.50" y2="508.8" stroke="#9c9c9c" stroke-width="0.8"/>
<text x="619.50" y="520" font-size="10" fill="#000" text-anchor="middle">2.0</text>
<line x1="655.50" y1="506.3" x2="655.50" y2="508.8" stroke="#9c9c9c" stroke-width="0.8"/>
<text x="655.50" y="520" font-size="10" fill="#000" text-anchor="middle">1.5</text>
<line x1="691.50" y1="506.3" x2="691.50" y2="508.8" stroke="#9c9c9c" stroke-width="0.8"/>
<text x="691.50" y="520" font-size="10" fill="#000" text-anchor="middle">1.0</text>
<line x1="727.50" y1="506.3" x2="727.50" y2="508.8" stroke="#9c9c9c" stroke-width="0.8"/>
<text x="727.50" y="520" font-size="10" fill="#000" text-anchor="middle">0.5</text>
<line x1="763.50" y1="506.3" x2="763.50" y2="508.8" stroke="#9c9c9c" stroke-width="0.8"/>
<text x="763.50" y="520" font-size="10" fill="#000" text-anchor="middle">0.0</text>
<text x="458.6" y="535.6" font-size="12" fill="#000" text-anchor="middle">Chemical shift [ppm]</text>
</svg></body></html>
